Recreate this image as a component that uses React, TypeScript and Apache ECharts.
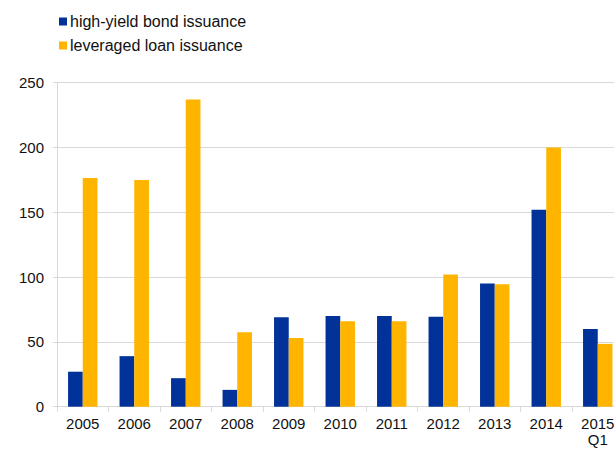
import React, { useEffect, useRef } from "react";
import * as echarts from "echarts";

const categories = ["2005", "2006", "2007", "2008", "2009", "2010", "2011", "2012", "2013", "2014", "2015\nQ1"];
const highYield = [27, 39, 22, 13, 69, 70, 70, 69.5, 95, 152, 60];
const leveragedLoan = [176.5, 175, 237, 57.5, 53, 66, 66, 102, 94.5, 200, 48.5];
const yTicks = { min: 0, max: 250, interval: 50 };

export default function App() {
  const ref = useRef<HTMLDivElement>(null);
  useEffect(() => {
    if (!ref.current) return;
    const chart = echarts.init(ref.current, null, { renderer: "svg" });
    chart.setOption({
      animation: false,
      textStyle: { fontFamily: "Liberation Sans, Arial, sans-serif" },
      legend: {
        orient: "vertical",
        left: 54,
        top: 8,
        itemWidth: 8,
        itemHeight: 8,
        itemGap: 7,
        icon: "rect",
        textStyle: { fontSize: 16, color: "#111", lineHeight: 17, padding: [0, 0, 0, -2] },
        data: ["high-yield bond issuance", "leveraged loan issuance"],
      },
      grid: { left: 57, right: 0.5, top: 82.7, bottom: 43.3, containLabel: false },
      xAxis: {
        type: "category",
        data: categories,
        axisLine: { lineStyle: { color: "#d9d9d9", width: 1 } },
        axisTick: { show: true, length: 5, lineStyle: { color: "#d9d9d9" } },
        axisLabel: { fontSize: 15, color: "#111", margin: 9, lineHeight: 16 },
      },
      yAxis: {
        type: "value",
        min: yTicks.min,
        max: yTicks.max,
        interval: yTicks.interval,
        axisLine: { show: true, lineStyle: { color: "#d9d9d9" } },
        axisTick: { show: true, length: 4, lineStyle: { color: "#d9d9d9" } },
        splitLine: { lineStyle: { color: "#d9d9d9" } },
        axisLabel: { fontSize: 15, color: "#111", margin: 13 },
      },
      series: [
        {
          name: "high-yield bond issuance",
          type: "bar",
          data: highYield,
          barWidth: 14.7,
          barGap: "0%",
          itemStyle: { color: "#003299" },
        },
        {
          name: "leveraged loan issuance",
          type: "bar",
          data: leveragedLoan,
          barWidth: 14.7,
          barGap: "0%",
          itemStyle: { color: "#ffb400" },
        },
      ],
    });
    return () => chart.dispose();
  }, []);
  return (
    <div style={{ position: "fixed", left: 0, top: 0, width: 614, height: 450, overflow: "hidden", background: "#fff" }}>
      <div ref={ref} style={{ width: 624, height: 450 }} />
    </div>
  );
}
